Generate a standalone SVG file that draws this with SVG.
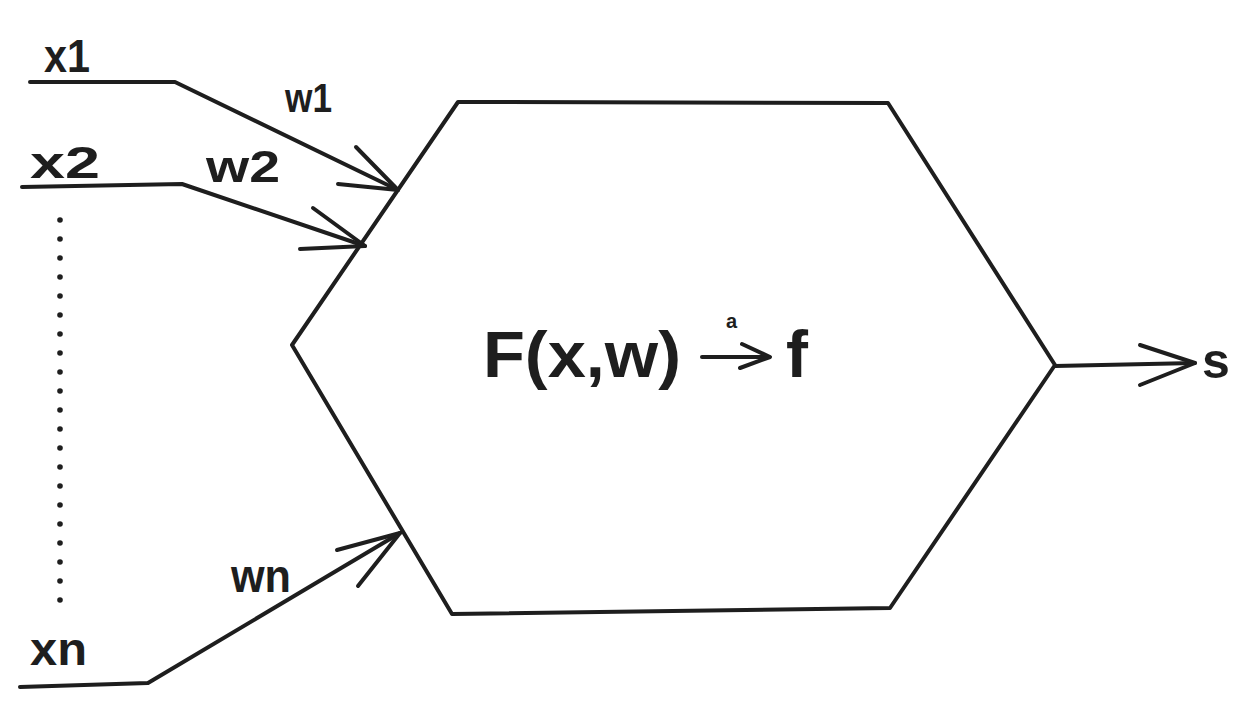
<svg xmlns="http://www.w3.org/2000/svg" width="1253" height="707" viewBox="0 0 1253 707">
<style>
.ln{fill:none;stroke:#1e1e1e;stroke-width:4;stroke-linecap:round;stroke-linejoin:round}
.lb{font-family:"Liberation Sans","Noto Sans",sans-serif;fill:#1e1e1e;font-weight:bold}
.dot{fill:#1e1e1e}
</style>
<rect width="1253" height="707" fill="#ffffff"/>
<g id="neuron">
<path class="ln" d="M458,102 L888,103 L1055,365 L890,608 L452,614 L292,345 Z"/>
<text class="lb" x="483" y="377" font-size="64" textLength="198" lengthAdjust="spacingAndGlyphs">F(x,w)</text>
<text class="lb" x="726" y="328" font-size="20">a</text>
<text class="lb" x="786" y="377" font-size="66">f</text>
</g>
<g id="x1"><text class="lb" x="44" y="72" font-size="46" textLength="46" lengthAdjust="spacingAndGlyphs">x1</text></g>
<g id="x2"><text class="lb" x="30" y="178" font-size="44" textLength="70" lengthAdjust="spacingAndGlyphs">x2</text></g>
<g id="xn"><text class="lb" x="30" y="665" font-size="46" textLength="57" lengthAdjust="spacingAndGlyphs">xn</text></g>
<g id="s"><text class="lb" x="1202" y="378" font-size="50">s</text></g>
<g id="dots">
<circle class="dot" cx="60" cy="220" r="2.8"/><circle class="dot" cx="60" cy="239" r="2.8"/><circle class="dot" cx="60" cy="258" r="2.8"/><circle class="dot" cx="60" cy="277" r="2.8"/><circle class="dot" cx="60" cy="296" r="2.8"/><circle class="dot" cx="60" cy="315" r="2.8"/><circle class="dot" cx="60" cy="334" r="2.8"/><circle class="dot" cx="60" cy="353" r="2.8"/><circle class="dot" cx="60" cy="372" r="2.8"/><circle class="dot" cx="60" cy="391" r="2.8"/><circle class="dot" cx="60" cy="410" r="2.8"/><circle class="dot" cx="60" cy="429" r="2.8"/><circle class="dot" cx="60" cy="448" r="2.8"/><circle class="dot" cx="60" cy="467" r="2.8"/><circle class="dot" cx="60" cy="486" r="2.8"/><circle class="dot" cx="60" cy="505" r="2.8"/><circle class="dot" cx="60" cy="524" r="2.8"/><circle class="dot" cx="60" cy="543" r="2.8"/><circle class="dot" cx="60" cy="562" r="2.8"/><circle class="dot" cx="60" cy="581" r="2.8"/><circle class="dot" cx="60" cy="600" r="2.8"/>
</g>
<g id="connectors">
<path class="ln" d="M30,82 L175,82 L398,190"/>
<path class="ln" d="M356,147 L398,190 L338,184"/>
<text class="lb" x="285" y="112" font-size="40" textLength="47" lengthAdjust="spacingAndGlyphs">w1</text>
<path class="ln" d="M22,187 L182,184 L365,246"/>
<path class="ln" d="M313,208 L365,246 L300,249"/>
<text class="lb" x="206" y="182" font-size="44" textLength="74" lengthAdjust="spacingAndGlyphs">w2</text>
<path class="ln" d="M20,687 L148,683 L400,533"/>
<path class="ln" d="M337,550 L400,533 L358,586"/>
<text class="lb" x="231" y="592" font-size="46" textLength="60" lengthAdjust="spacingAndGlyphs">wn</text>
<path class="ln" d="M1055,366 L1195,363"/>
<path class="ln" d="M1140,345 L1195,363 L1140,385"/>
<path class="ln" d="M702,357 L768,357"/>
<path class="ln" d="M742,344 L770,357 L740,368"/>
</g>
</svg>
